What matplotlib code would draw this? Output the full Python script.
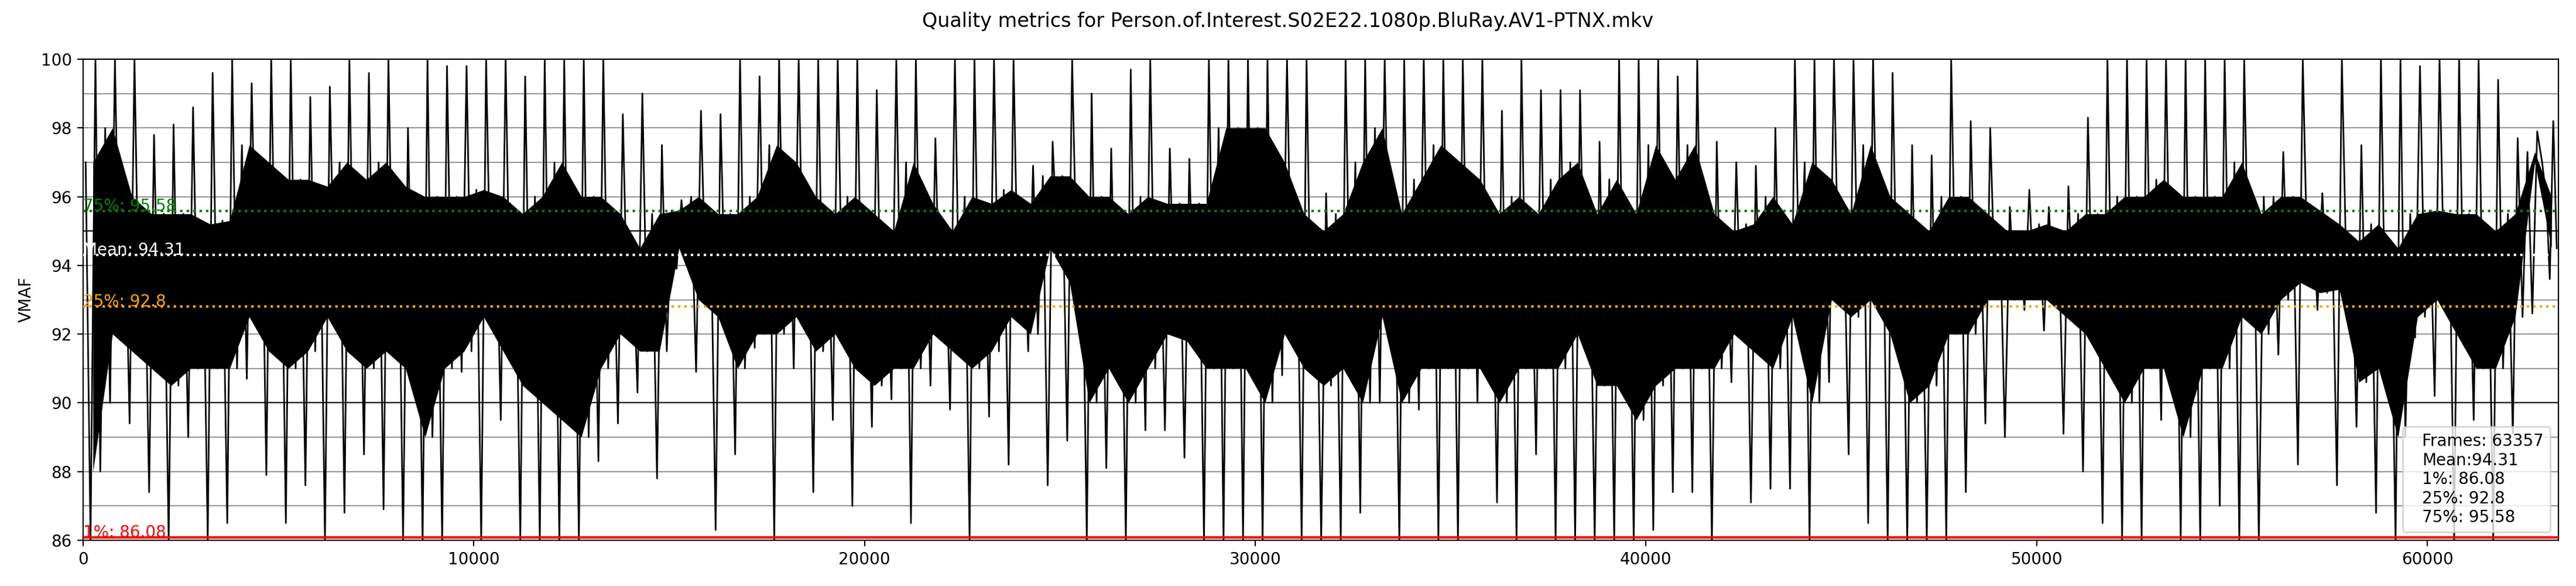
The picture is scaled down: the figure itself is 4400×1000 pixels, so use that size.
import matplotlib
matplotlib.use("Agg")
import matplotlib.pyplot as plt
import numpy as np

file_name = "Person.of.Interest.S02E22.1080p.BluRay.AV1-PTNX.mkv"
total_frames = 63357
bin_size = 500  # frames per bin

mean_vmaf = 94.31
p1 = 86.08
p25 = 92.8
p75 = 95.58

# per 500-frame bin: highest spike, upper edge of the dense band,
# lower edge of the dense band, deepest dip
vmaf_top = [100, 100, 100, 97.8, 98.1, 98.6, 99.6, 100, 99.3, 100,
            100, 98.9, 99.2, 100, 99.6, 100, 98, 100, 99.8, 99.8,
            100, 100, 99.5, 100, 100, 100, 100, 98.4, 99, 97.5,
            95.9, 98.5, 98.4, 100, 99.5, 100, 100, 100, 100, 100,
            99.1, 100, 100, 97.7, 100, 100, 100, 100, 96.9, 97.6,
            100, 99, 97.4, 99.7, 100, 97.4, 97.1, 100, 100, 100,
            100, 100, 100, 96.1, 100, 100, 100, 100, 100, 100,
            100, 100, 98.5, 100, 99.1, 99.1, 99.1, 97.6, 100, 100,
            100, 99.5, 100, 97.6, 97, 96.9, 98, 100, 100, 100,
            100, 100, 99.6, 97.5, 97.2, 100, 98.2, 98, 95.7, 96.2,
            95.7, 96.3, 98.3, 100, 100, 100, 100, 100, 100, 100,
            100, 96, 97.3, 100, 96.1, 100, 97.5, 100, 100, 99.8,
            100, 100, 100, 99.4, 97.7, 97.9, 98.2]
vmaf_hi = [97, 98, 96, 95.5, 95.5, 95.5, 95.2, 95.3, 97.5, 97,
           96.5, 96.5, 96.3, 97, 96.5, 97, 96.3, 96, 96, 96,
           96.2, 96, 95.5, 96, 97, 96, 96, 95.5, 94.5, 95.5,
           95.6, 96, 95.5, 95.5, 96, 97.5, 97, 96, 95.5, 96,
           95.5, 95, 97, 95.8, 95, 96, 95.8, 96.2, 95.8, 96.6,
           96.6, 96, 96, 95.5, 96, 95.8, 95.8, 95.8, 98, 98,
           98, 97, 95.5, 95, 95.5, 97, 98, 95.5, 96.5, 97.5,
           97, 96.5, 95.5, 96, 95.5, 96.5, 97, 95.5, 96.5, 95.5,
           97.5, 96.5, 97.5, 95.5, 95, 95.2, 96, 95.2, 97, 96.5,
           95.5, 97.5, 96, 95.5, 95, 96, 96, 95.5, 95, 95,
           95.2, 95, 95.5, 95.5, 96, 96, 96.5, 96, 96, 96,
           97, 95.5, 96, 96, 95.6, 95.2, 94.7, 95.2, 94.5, 95.5,
           95.6, 95.5, 95.5, 95, 95.5, 97.3, 96]
vmaf_lo = [88, 92, 91.5, 91, 90.5, 91, 91, 91, 92.5, 91.5,
           91, 91.5, 92.5, 91.5, 91, 91.5, 91, 89, 91, 91.5,
           92.5, 91.5, 90.5, 90, 89.5, 89, 91, 92, 91.5, 91.5,
           94.5, 93, 92.5, 91, 92, 92, 92.5, 91.5, 92, 91,
           90.5, 91, 91, 92, 91.5, 91, 91.5, 92.5, 92, 94.5,
           93.5, 90, 91, 90, 91, 92, 91.8, 91, 91, 91,
           90, 92, 91, 90.5, 91, 90, 92.5, 90, 91, 91,
           91, 91, 90, 91, 91, 91, 92, 90.5, 90.5, 89.5,
           90.5, 91, 91, 91, 92, 91.5, 91, 92.5, 90, 93,
           92.5, 93, 92, 90, 90.5, 92, 92, 93, 93, 93,
           93, 92.5, 92, 91, 90, 91, 91, 89, 91, 91,
           92.5, 92, 93, 93.5, 93.2, 93.3, 90.6, 91, 89, 92.5,
           93, 92, 91, 91, 92.5, 97, 94.5]
vmaf_bot = [86, 90, 89.4, 87.4, 86, 89, 86, 86.5, 90.7, 87.9,
            86.5, 87.6, 86, 86.8, 88.5, 86.9, 86, 86, 86, 90.9,
            86, 89.5, 86, 86, 86, 86, 88.3, 89.4, 90.3, 87.8,
            93.9, 90.9, 86.3, 88.5, 91.6, 86, 91, 87.4, 89.5, 87,
            89.3, 90.1, 86.5, 90.5, 89.8, 86, 89.6, 88.2, 91.5, 87.6,
            88.9, 86, 88.1, 86, 89.2, 89.2, 88.4, 86, 86, 86,
            86, 90.8, 86, 86, 86, 86.8, 90, 86, 89.8, 86,
            86, 90, 87.1, 86, 88.5, 86, 86, 86, 86, 86,
            86.3, 87.4, 87.4, 86, 90.6, 87.1, 87.5, 87.5, 86, 90.6,
            88.5, 86.5, 86, 86, 86, 86, 87.4, 89.4, 89, 92.7,
            92.1, 89.1, 88, 86.5, 86, 86, 89.5, 86, 86, 87,
            86, 86, 91.4, 88.2, 92.7, 87.6, 89.3, 86.8, 86, 91.9,
            90.2, 86, 89.5, 86, 89.1, 92.6, 93.6]

starts = np.arange(len(vmaf_top)) * bin_size
ends = np.minimum(starts + bin_size, total_frames)
widths = ends - starts
centers = starts + widths / 2

# trace through each bin: band top -> dip -> spike -> band bottom
xs = np.column_stack([starts + widths * f for f in (0.125, 0.375, 0.625, 0.875)]).ravel()
ys = np.column_stack([vmaf_hi, vmaf_bot, vmaf_top, vmaf_lo]).ravel()

fig, ax = plt.subplots(figsize=(22, 5), dpi=200)
fig.subplots_adjust(left=0.0323, right=0.9932, bottom=0.078, top=0.899)

ax.fill_between(centers, vmaf_lo, vmaf_hi, color="black", lw=0, zorder=2)
ax.plot(xs, ys, color="black", lw=1.0, zorder=2)
ax.plot([], [], " ", label=f"Frames: {total_frames}\nMean:{mean_vmaf}\n1%: {p1}\n25%: {p25}\n75%: {p75}")

ax.axhline(p75, color="green", ls=":", lw=1.5, zorder=5)
ax.axhline(mean_vmaf, color="white", ls=":", lw=1.5, zorder=5)
ax.axhline(p25, color="orange", ls=":", lw=1.5, zorder=5)
ax.axhline(p1, color="red", lw=1.5, zorder=5)
ax.text(0, p75, f"75%: {p75}", color="green", zorder=6)
ax.text(0, mean_vmaf, f"Mean: {mean_vmaf}", color="white", zorder=6)
ax.text(0, p25, f"25%: {p25}", color="orange", zorder=6)
ax.text(0, p1, f"1%: {p1}", color="red", zorder=6)

ax.set_xlim(0, total_frames)
ax.set_ylim(86, 100)
ax.set_yticks(np.arange(86, 101, 2))
ax.set_yticks(np.arange(86, 101, 1), minor=True)
ax.tick_params(axis="y", which="minor", length=0)
ax.set_axisbelow(True)
ax.grid(axis="y", which="both", color="grey", lw=0.6)
ax.axhline(90, color="black", lw=0.8, zorder=1.6)
ax.axhline(95, color="black", lw=0.8, zorder=1.6)
ax.set_ylabel("VMAF")
ax.legend(loc="lower right", handlelength=0)

fig.suptitle(f"Quality metrics for {file_name}")
fig.savefig("out.png")
